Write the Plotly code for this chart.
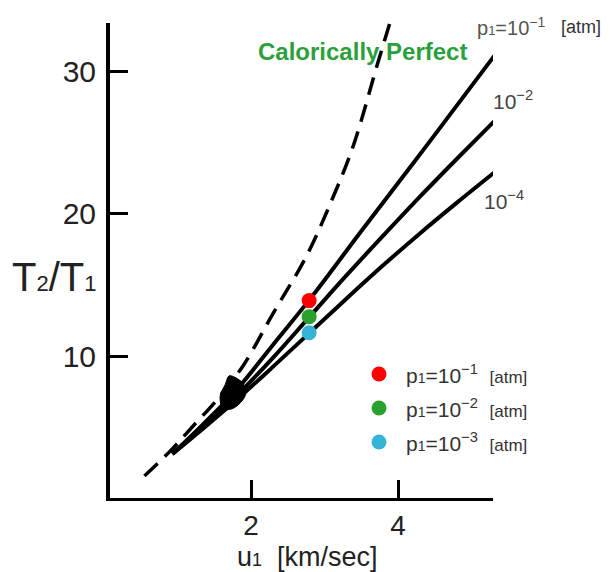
import plotly.graph_objects as go

# ---- data ----
cp_u = [0.55, 0.9, 1.2, 1.55, 1.89, 2.3, 2.75, 3.1, 3.39, 3.71, 3.89]
cp_T = [1.55, 3.3, 5.0, 7.0, 9.3, 13.0, 17.0, 21.0, 24.8, 30.4, 33.5]

p1_u = [0.93, 1.35, 1.8, 2.3, 2.83, 3.5, 4.4, 5.36]
p1_T = [3.1, 5.2, 7.6, 10.8, 14.2, 18.8, 24.9, 31.5]

p2_u = [0.93, 1.35, 1.8, 2.3, 2.8, 3.3, 3.8, 4.3, 4.8, 5.33]
p2_T = [3.1, 4.99, 7.19, 9.89, 12.79, 15.69, 18.49, 21.24, 23.89, 26.65]

p4_u = [0.93, 1.35, 1.8, 2.3, 2.8, 3.3, 3.8, 4.3, 4.8, 5.35]
p4_T = [3.1, 4.9, 6.9, 9.25, 11.65, 14.05, 16.4, 18.65, 20.8, 23.1]

blob_u = [1.70, 1.78, 1.90, 1.92, 1.75, 1.62, 1.58, 1.65, 1.70]
blob_T = [8.6, 8.5, 8.0, 7.2, 6.3, 6.3, 7.2, 8.0, 8.6]

dot_u = [2.79, 2.79, 2.79]
dot_T = [13.9, 12.77, 11.64]
dot_colors = ["#ff0000", "#2ca02c", "#35b4d6"]
dot_exps = ["−1", "−2", "−3"]

x_ticks = [2, 4]
y_ticks = [10, 20, 30]

FONT = "Liberation Sans"

fig = go.Figure()

fig.add_trace(go.Scatter(x=cp_u, y=cp_T, mode="lines",
                         line=dict(color="black", width=3.5, dash="18px,10px", shape="spline"),
                         showlegend=False, hoverinfo="skip"))
for u, T in [(p1_u, p1_T), (p2_u, p2_T), (p4_u, p4_T)]:
    fig.add_trace(go.Scatter(x=u, y=T, mode="lines", line=dict(color="black", width=4, shape="spline"),
                             showlegend=False, hoverinfo="skip"))
fig.add_trace(go.Scatter(x=blob_u, y=blob_T, mode="lines", fill="toself", fillcolor="black",
                         line=dict(color="black", width=1, shape="spline"), showlegend=False, hoverinfo="skip"))

fig.add_trace(go.Scatter(x=dot_u, y=dot_T, mode="markers", marker=dict(color=dot_colors, size=15),
                         showlegend=False, hoverinfo="skip"))

# legend (manual)
leg_u = 3.74
leg_T = [8.73, 6.34, 3.94]
fig.add_trace(go.Scatter(x=[leg_u] * 3, y=leg_T, mode="markers", marker=dict(color=dot_colors, size=15),
                         showlegend=False, hoverinfo="skip"))

for T, e in zip(leg_T, dot_exps):
    fig.add_annotation(x=leg_u + 0.34, y=T, xref="x", yref="y", xanchor="left", yanchor="middle",
                       showarrow=False,
                       text=f"p<span style='font-size:14px'>1</span>=10<sup>{e}</sup>  <span style='font-size:17px'>[atm]</span>",
                       font=dict(family=FONT, size=21, color="#333"))

fig.add_annotation(x=0.658, y=0.941, xref="paper", yref="paper", text="Calorically Perfect", showarrow=False,
                   font=dict(family=FONT, size=24, color="#2ca03c", weight="bold"),
                   xanchor="center", yanchor="middle")
fig.add_annotation(x=0.953, y=0.9916, xref="paper", yref="paper", showarrow=False, xanchor="left", yanchor="middle",
                   text="p<span style='font-size:13px'>1</span>=10<sup>−1</sup>",
                   font=dict(family=FONT, size=20, color="#555"))
fig.add_annotation(x=1.172, y=0.9916, xref="paper", yref="paper", showarrow=False, xanchor="left", yanchor="middle",
                   text="[atm]", font=dict(family=FONT, size=18, color="#333"))
fig.add_annotation(x=1.052, y=0.838, xref="paper", yref="paper", showarrow=False, xanchor="center", yanchor="middle",
                   text="10<sup>−2</sup>", font=dict(family=FONT, size=21, color="#444"))
fig.add_annotation(x=1.029, y=0.627, xref="paper", yref="paper", showarrow=False, xanchor="center", yanchor="middle",
                   text="10<sup>−4</sup>", font=dict(family=FONT, size=21, color="#444"))
# axis titles
fig.add_annotation(x=-0.262, y=0.465, xref="paper", yref="paper", showarrow=False, xanchor="left", yanchor="middle",
                   text="T<span style='font-size:22px'>2</span>/T<span style='font-size:22px'>1</span>",
                   font=dict(family=FONT, size=40, color="#222"))
fig.add_annotation(x=0.516, y=-0.125, xref="paper", yref="paper", showarrow=False, xanchor="center", yanchor="middle",
                   text="u<span style='font-size:18px'>1</span>  [km/sec]",
                   font=dict(family=FONT, size=27, color="#222"))

fig.update_layout(
    width=605, height=564,
    margin=dict(l=102, r=120, t=15, b=74),
    paper_bgcolor="white", plot_bgcolor="white",
    xaxis=dict(range=[0.082, 5.29], showgrid=False, zeroline=False, showline=True, linecolor="black", linewidth=3,
               ticks="inside", ticklen=18, tickwidth=3, tickcolor="black", tickvals=x_ticks,
               tickfont=dict(family=FONT, size=28, color="#222")),
    yaxis=dict(range=[0, 33.45], showgrid=False, zeroline=False, showline=True, linecolor="black", linewidth=4,
               ticks="inside", ticklen=18, tickwidth=3, tickcolor="black", tickvals=y_ticks,
               tickfont=dict(family=FONT, size=30, color="#222"), ticklabelstandoff=4),
)

fig.write_html("out.html")
